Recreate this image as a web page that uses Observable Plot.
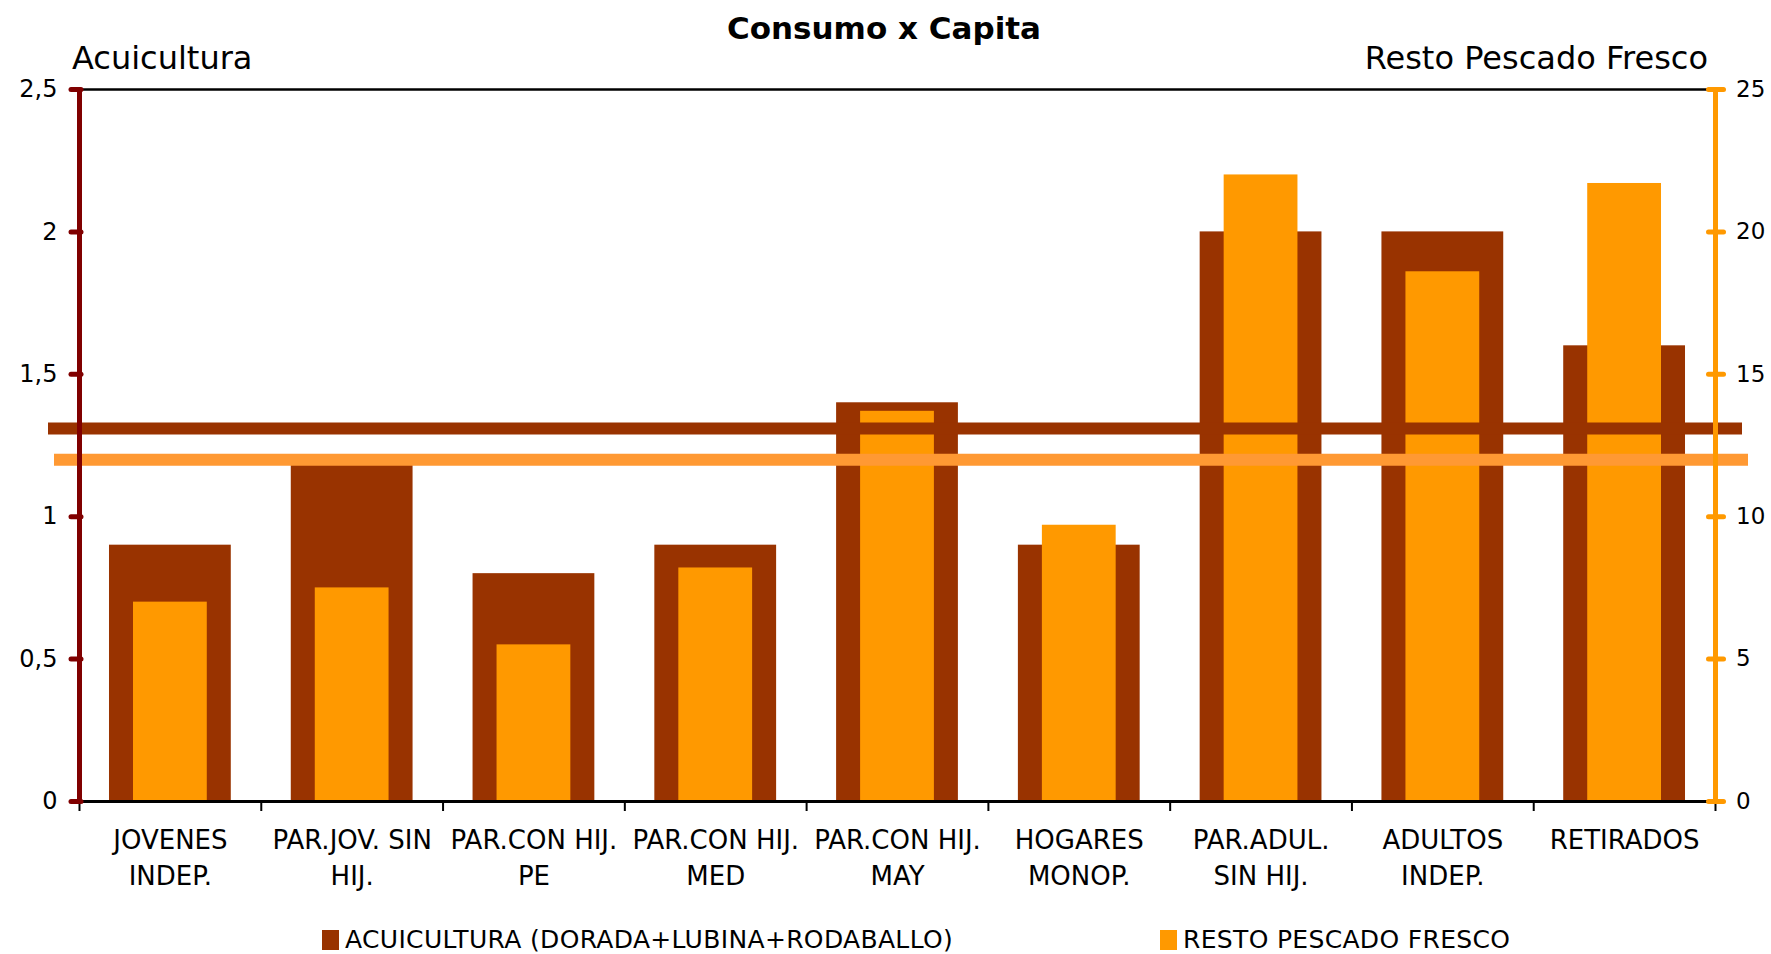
<!DOCTYPE html>
<html>
<head>
<meta charset="utf-8">
<script src="https://cdn.jsdelivr.net/npm/d3@7"></script>
<script src="https://cdn.jsdelivr.net/npm/@observablehq/plot@0.6"></script>
<style>
  html, body { margin: 0; padding: 0; background: #fff; }
  #wrap { position: relative; width: 1771px; height: 954px; overflow: hidden; font-family: "DejaVu Sans", Verdana, sans-serif; color: #000; }
  .abs { position: absolute; white-space: nowrap; line-height: 1; }
  #title { left: 0; width: 1768px; text-align: center; top: 13px; font-size: 31px; font-weight: bold; }
  #lh { left: 72px; top: 42px; font-size: 32px; }
  #rh { right: 63px; top: 42px; font-size: 32px; }
  #chart { position: absolute; left: 0; top: 0; }
  .leg { position: absolute; top: 927px; font-size: 25px; letter-spacing: 0.33px; line-height: 1; white-space: nowrap; }
  .sw { position: absolute; top: 3px; width: 17px; height: 20px; }
</style>
</head>
<body>
<div id="wrap">
  <div id="chart"></div>
  <div id="title" class="abs">Consumo x Capita</div>
  <div id="lh" class="abs">Acuicultura</div>
  <div id="rh" class="abs">Resto Pescado Fresco</div>
  <div id="legend"></div>
</div>
<script>
// ---- data ----
const categories = [
  "JOVENES\nINDEP.",
  "PAR.JOV. SIN\nHIJ.",
  "PAR.CON HIJ.\nPE",
  "PAR.CON HIJ.\nMED",
  "PAR.CON HIJ.\nMAY",
  "HOGARES\nMONOP.",
  "PAR.ADUL.\nSIN HIJ.",
  "ADULTOS\nINDEP.",
  "RETIRADOS"
];
const acuicultura = [0.9, 1.2, 0.8, 0.9, 1.4, 0.9, 2.0, 2.0, 1.6];      // left axis
const restoPescado = [7.0, 7.5, 5.5, 8.2, 13.7, 9.7, 22.0, 18.6, 21.7];  // right axis
const refAcuicultura = [1.31];   // horizontal reference line, left axis
const refResto = [12.0];         // horizontal reference line, right axis
const leftTicks = [0, 0.5, 1, 1.5, 2, 2.5];
const rightTicks = [0, 5, 10, 15, 20, 25];
const seriesNames = ["ACUICULTURA (DORADA+LUBINA+RODABALLO)", "RESTO PESCADO FRESCO"];

// ---- styles ----
const cAcui = "#993300", cResto = "#FF9900", cRestoLine = "#FF9933";
const cLeftAxis = "#800000";
const ratio = 10; // right axis / left axis

const data = categories.map((c, i) => ({cat: c, acui: acuicultura[i], resto: restoPescado[i]}));

const W = 1771, H = 954;
const mL = 79, mR = 56, mT = 89, mB = 153;
const step = (W - mL - mR) / categories.length;
const first = categories[0], last = categories[categories.length - 1];

const chart = Plot.plot({
  width: W,
  height: H,
  marginLeft: mL,
  marginRight: mR,
  marginTop: mT,
  marginBottom: mB,
  style: {fontFamily: "DejaVu Sans, Verdana, sans-serif", background: "transparent", overflow: "visible"},
  x: {domain: categories, paddingInner: 0.33, paddingOuter: 0.165, round: false, label: null},
  y: {domain: [0, 2.5], label: null},
  marks: [
    Plot.barY(data, {x: "cat", y: "acui", fill: cAcui}),
    Plot.barY(data, {x: "cat", y: d => d.resto / ratio, fill: cResto, insetLeft: 24, insetRight: 24}),
    Plot.ruleY(refAcuicultura, {y: d => d, stroke: cAcui, strokeWidth: 12, insetLeft: -31, insetRight: -27}),
    Plot.ruleY(refResto, {y: d => d / ratio, stroke: cRestoLine, strokeWidth: 12, insetLeft: -25, insetRight: -33}),
    Plot.frame({anchor: "top", stroke: "#000", strokeWidth: 2.5}),
    Plot.ruleY([0], {stroke: "#000", strokeWidth: 3}),
    // category boundary ticks
    Plot.axisX({tickSize: 10, dx: -step / 2, tickFormat: () => "", stroke: "#000", strokeWidth: 2}),
    Plot.axisX([last], {tickSize: 10, dx: step / 2, tickFormat: () => "", stroke: "#000", strokeWidth: 2}),
    // category labels
    Plot.axisX({tickSize: 0, tickPadding: 23, fontSize: 26, lineHeight: 1.35, fill: "#000"}),
    // left axis line + ticks
    Plot.ruleX([first], {x: d => d, dx: -step / 2, stroke: cLeftAxis, strokeWidth: 5}),
    Plot.axisY({anchor: "left", ticks: leftTicks, tickSize: 10, dx: 2, tickPadding: 14,
      tickFormat: d => String(d).replace(".", ","), stroke: cLeftAxis, strokeWidth: 5,
      strokeLinecap: "round", fill: "#000", fontSize: 24}),
    // right axis line + ticks
    Plot.ruleX([last], {x: d => d, dx: step / 2, stroke: cResto, strokeWidth: 5}),
    Plot.axisY(rightTicks.map(t => t / ratio), {anchor: "right", tickSize: 15, dx: -7.5, tickPadding: 13,
      tickFormat: d => String(Math.round(d * ratio)), stroke: cResto, strokeWidth: 5,
      strokeLinecap: "round", fill: "#000", fontSize: 23})
  ]
});
document.getElementById("chart").appendChild(chart);

// legend
const legend = document.getElementById("legend");
const legColors = [cAcui, cResto];
const legLeft = [322, 1160];
seriesNames.forEach((name, i) => {
  const item = document.createElement("div");
  item.className = "leg";
  item.style.left = legLeft[i] + "px";
  item.style.paddingLeft = "23px";
  item.innerHTML = `<span class="sw" style="left:0;background:${legColors[i]}"></span>${name}`;
  legend.appendChild(item);
});
</script>
</body>
</html>
